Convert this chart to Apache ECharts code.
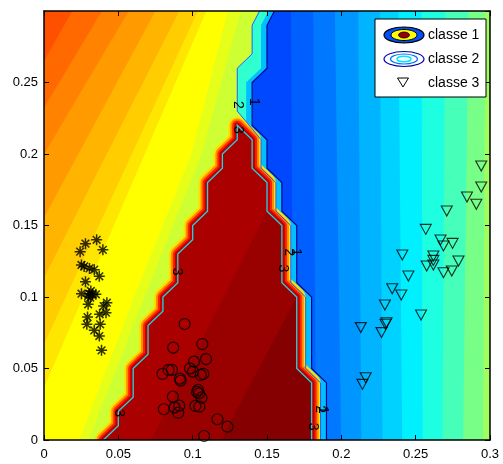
<!DOCTYPE html>
<html><head><meta charset="utf-8">
<script src="https://cdn.jsdelivr.net/npm/echarts/dist/echarts.min.js"></script>
<style>html,body{margin:0;padding:0;background:#fff}#c{width:503px;height:464px}</style>
</head><body><div id="c"></div>
<script>
// ---------------- data ----------------
const axisMin = 0, axisMax = 0.3, tickStep = 0.05;

// left field: band boundary polylines (top -> left/bottom edge)
const leftBandEdges = [
  [[0.019,0.3],[0,0.265]],
  [[0.039,0.3],[0,0.2324]],
  [[0.057,0.3],[0,0.1998]],
  [[0.075,0.3],[0,0.1555]],
  [[0.091,0.3],[0,0.1135]],
  [[0.1035,0.3],[0,0.0669]],
  [[0.1092,0.3],[0,0.0366]],
  [[0.1236,0.3],[0.0991,0.2],[0.0604,0.0995],[0.0236,0]],
  [[0.1324,0.3],[0.106,0.2],[0.0676,0.1],[0.03,0]]
];
// right field: band boundaries (x at top, x at bottom)
const rightBandTopX    = [0.166, 0.181, 0.1955, 0.2113, 0.2259, 0.2383, 0.254, 0.2698, 0.2856, 0.2968];
const rightBandBottomX = [0.168, 0.183, 0.2,    0.2135, 0.2277, 0.241,  0.2547, 0.268, 0.2818, 0.2953];

// contour "3" (class 1 region boundary)
const contour3 = [[0.04,0],[0.05,0.01],[0.05,0.02],[0.06,0.03],[0.06,0.05],[0.07,0.06],[0.07,0.08],
  [0.08,0.09],[0.08,0.10],[0.09,0.11],[0.09,0.13],[0.10,0.14],[0.10,0.15],[0.11,0.16],[0.11,0.18],
  [0.12,0.19],[0.12,0.20],[0.13,0.21],[0.13,0.22],[0.14,0.21],[0.14,0.19],[0.15,0.18],[0.15,0.16],
  [0.16,0.15],[0.16,0.11],[0.17,0.10],[0.17,0.05],[0.18,0.04],[0.18,0]];
// contour "2"
const contour2 = [[0.145,0.30],[0.14,0.29],[0.14,0.27],[0.13,0.26],[0.13,0.23],[0.1405,0.217],
  [0.146,0.21],[0.146,0.19],[0.156,0.18],[0.156,0.16],[0.166,0.15],[0.166,0.11],[0.176,0.10],
  [0.176,0.05],[0.186,0.04],[0.186,0]];
// contour "1"
const contour1 = [[0.155,0.3],[0.15,0.29],[0.15,0.26],[0.14,0.25],[0.14,0.22],[0.15,0.21],[0.15,0.19],
  [0.16,0.18],[0.16,0.16],[0.17,0.15],[0.17,0.11],[0.18,0.10],[0.18,0.05],[0.19,0.04],[0.19,0]];
// darker levels inside the class 1 region
const redInner1 = [[0.072,0],[0.15,0.16],[0.16,0.15],[0.16,0.11],[0.17,0.10],[0.17,0.05],[0.18,0.04],[0.18,0]];
const redInner2 = [[0.119,0],[0.17,0.10],[0.17,0.05],[0.18,0.04],[0.18,0]];

// contour labels [x, y, text]
const contourLabels = [
  [0.1413,0.2364,'1'],[0.1302,0.2343,'2'],[0.1302,0.2168,'3'],[0.0896,0.1177,'3'],[0.0502,0.0187,'3'],
  [0.1696,0.1313,'1'],[0.165,0.1313,'2'],[0.1606,0.12,'3'],[0.1876,0.021,'1'],[0.1854,0.0215,'2'],[0.1809,0.0093,'3']
];

// markers
const circlePoints = [[0.0946,0.0811],[0.0869,0.0646],[0.1065,0.0671],[0.109,0.0566],[0.1009,0.0548],
  [0.0982,0.0501],[0.1002,0.0478],[0.1054,0.0455],[0.1072,0.0462],[0.0797,0.0462],[0.0838,0.049],
  [0.086,0.049],[0.0914,0.0429],[0.0919,0.0415],[0.0867,0.0303],[0.1036,0.035],[0.1043,0.0326],
  [0.1059,0.0296],[0.1029,0.0336],[0.0806,0.0215],[0.0878,0.0228],[0.091,0.024],[0.0903,0.0191],
  [0.1018,0.0238],[0.1045,0.0233],[0.1167,0.0145],[0.1234,0.0093],[0.1077,0.0028]];
const asteriskPoints = [[0.0354,0.140],[0.0279,0.1373],[0.0396,0.133],[0.0243,0.1317],[0.0252,0.1224],
  [0.027,0.1214],[0.0306,0.12],[0.0338,0.1191],[0.0372,0.1145],[0.0279,0.1107],[0.0315,0.1042],
  [0.0304,0.1023],[0.0252,0.1023],[0.0327,0.1019],[0.0297,0.1007],[0.0311,0.0995],[0.0349,0.1019],
  [0.0297,0.0949],[0.0423,0.096],[0.0401,0.0937],[0.0417,0.089],[0.0374,0.0879],[0.0293,0.086],
  [0.0288,0.0809],[0.0378,0.0809],[0.0338,0.0767],[0.0372,0.0727],[0.0387,0.0627]];
const class3Points = [[0.2941,0.1916],[0.2941,0.1769],[0.2845,0.1699],[0.2908,0.1648],[0.2709,0.1601],
  [0.2568,0.1473],[0.2667,0.1399],[0.2748,0.1375],[0.2687,0.1357],[0.241,0.1294],[0.2619,0.1287],
  [0.2619,0.1256],[0.2788,0.1252],[0.2574,0.1217],[0.2619,0.1224],[0.2687,0.117],[0.2743,0.1182],
  [0.2451,0.1147],[0.2342,0.1058],[0.2403,0.1014],[0.2293,0.0944],[0.2536,0.0874],[0.2304,0.082],
  [0.2297,0.0809],[0.2131,0.0786],[0.227,0.0751],[0.2164,0.0436],[0.2142,0.0389]];
const legendNames = ['classe 1','classe 2','classe 3'];

// ---------------- styles ----------------
const leftBandFills = ['#ff5000','#ff6900','#ff8200','#ff9b00','#ffb400','#ffcd00','#ffe600','#ffff00','#e6ff19'];
const leftBaseFill = '#cdff32';
const rightBandFills = ['#0048ff','#0060ff','#0078ff','#0096ff','#00b4ff','#00d2ff','#00f0ff','#1effe1','#46ffb9','#78ff87','#a0ff5f'];
const FONT = '"Liberation Sans", Arial, Helvetica, sans-serif';

function fieldRender(params, api) {
  const c = p => api.coord(p);
  const e = 0.01;
  const x0 = axisMin - e, x1 = axisMax + e, y0 = axisMin - e, y1 = axisMax + e;
  const kids = [];
  const poly = (pts, style) => kids.push({type:'polygon', shape:{points:pts}, style:style});
  // right field
  poly([[x0,y0],[x1,y0],[x1,y1],[x0,y1]].map(c), {fill: rightBandFills[0]});
  rightBandTopX.forEach((t,i) => {
    const b = rightBandBottomX[i];
    poly([[t,y1],[b,y0],[x1,y0],[x1,y1]].map(c), {fill: rightBandFills[i+1]});
  });
  // left of contour 1
  const n = contour1;
  poly([...n, [n[n.length-1][0], y0], [x0,y0], [x0,y1], [n[0][0], y1]].map(c), {fill: leftBaseFill});
  for (let k = leftBandEdges.length - 1; k >= 0; k--) {
    const b = leftBandEdges[k];
    poly([[b[0][0], y1], ...b, [x0,y0], [x0,y1]].map(c), {fill: leftBandFills[k]});
  }
  // band between contour 2 and contour 1
  poly([...contour2, ...contour1.slice().reverse()].map(c), {fill:'#30ffd0'});
  const np = contour1.map(c);
  poly([...np, ...np.slice().reverse().map(p => [p[0]-6, p[1]])], {fill:'#00c0ff'});
  // class 1 region
  const r = contour3.map(c);
  [[18,'#ffe000'],[14,'#ff8c00'],[10,'#ff2000'],[6,'#c00000']].forEach(([w,col]) =>
    poly(r, {fill:'none', stroke:col, lineWidth:w, lineJoin:'round'}));
  poly(r, {fill:'#aa0000'});
  poly(redInner1.map(c), {fill:'#990000'});
  poly(redInner2.map(c), {fill:'#850000'});
  // contour lines
  kids.push({type:'polyline', shape:{points:r}, style:{stroke:'#22d3e0', lineWidth:1.3, fill:null}});
  kids.push({type:'polyline', shape:{points:contour2.map(c)}, style:{stroke:'#2a5cff', lineWidth:1, fill:null}});
  kids.push({type:'polyline', shape:{points:np}, style:{stroke:'#00008c', lineWidth:1.2, fill:null}});
  // labels
  contourLabels.forEach(l => {
    const p = c([l[0], l[1]]);
    kids.push({type:'text', x:p[0], y:p[1], rotation:-Math.PI/2,
      style:{text:l[2], fill:'#000', font:'14px ' + FONT, align:'center', verticalAlign:'middle'}});
  });
  return {type:'group', children:kids};
}

const axisCommon = {
  type:'value', min:axisMin, max:axisMax, interval:tickStep, z:5,
  axisLine:{show:true, onZero:false, lineStyle:{color:'#000', width:1.5}},
  axisTick:{show:true, inside:true, length:5, lineStyle:{color:'#000', width:1}},
  splitLine:{show:false}
};

const LZ = 100;
const legendElements = [
  {type:'rect', shape:{x:375, y:19, width:111, height:78}, style:{fill:'#fff', stroke:'#000', lineWidth:1}},
  {type:'ellipse', shape:{cx:404, cy:35, rx:20, ry:8}, style:{fill:'#0050ff', stroke:'#000', lineWidth:1.2}},
  {type:'ellipse', shape:{cx:404, cy:35, rx:13, ry:5.5}, style:{fill:'#ffff00', stroke:'#000', lineWidth:1}},
  {type:'ellipse', shape:{cx:404, cy:35, rx:5.5, ry:3}, style:{fill:'#990000', stroke:'#000', lineWidth:0.8}},
  {type:'ellipse', shape:{cx:404, cy:59, rx:20, ry:7.5}, style:{fill:'none', stroke:'#0000aa', lineWidth:1.2}},
  {type:'ellipse', shape:{cx:404, cy:59, rx:13.5, ry:5}, style:{fill:'none', stroke:'#0070ff', lineWidth:1.2}},
  {type:'ellipse', shape:{cx:404, cy:59, rx:7, ry:2.8}, style:{fill:'none', stroke:'#00e8ff', lineWidth:1.5}},
  {type:'polygon', shape:{points:[[397.5,78],[408.5,78],[403,87]]}, style:{fill:'none', stroke:'#000', lineWidth:1}},
  {type:'text', x:428, y:35, style:{text:legendNames[0], font:'14px ' + FONT, fill:'#000', verticalAlign:'middle'}},
  {type:'text', x:428, y:59, style:{text:legendNames[1], font:'14px ' + FONT, fill:'#000', verticalAlign:'middle'}},
  {type:'text', x:428, y:83, style:{text:legendNames[2], font:'14px ' + FONT, fill:'#000', verticalAlign:'middle'}}
].map((el, i) => Object.assign({}, el, {z: LZ + i}));

const chart = echarts.init(document.getElementById('c'), null, {renderer:'canvas'});
chart.setOption({
  animation:false,
  grid:{left:44, right:13, top:11, bottom:24, containLabel:false},
  xAxis:[
    Object.assign({}, axisCommon, {position:'bottom',
      axisLabel:{color:'#000', fontSize:13, fontFamily:FONT, margin:8}}),
    Object.assign({}, axisCommon, {position:'top', axisLabel:{show:false}})
  ],
  yAxis:[
    Object.assign({}, axisCommon, {position:'left',
      axisLabel:{color:'#000', fontSize:13, fontFamily:FONT, margin:6, showMaxLabel:false}}),
    Object.assign({}, axisCommon, {position:'right', axisLabel:{show:false}})
  ],
  series:[
    {type:'custom', renderItem:fieldRender, data:[[0,0]], clip:true, silent:true, z:1},
    {type:'scatter', name:'circles', data:circlePoints, symbol:'circle', symbolSize:11, z:3, silent:true,
      itemStyle:{color:'rgba(0,0,0,0)', borderColor:'#000', borderWidth:1.2}},
    {type:'scatter', name:'asterisks', data:asteriskPoints, z:3, silent:true,
      symbol:'path://M0,-10L0,10M-10,0L10,0M-7,-7L7,7M-7,7L7,-7', symbolSize:11,
      itemStyle:{color:'rgba(0,0,0,0)', borderColor:'#000', borderWidth:1.5}},
    {type:'scatter', name:legendNames[2], data:class3Points, symbol:'triangle', symbolRotate:180,
      symbolSize:[11,10], z:3, silent:true,
      itemStyle:{color:'rgba(0,0,0,0)', borderColor:'#000', borderWidth:1.1}}
  ],
  graphic:{elements: legendElements}
});
</script>
</body></html>
